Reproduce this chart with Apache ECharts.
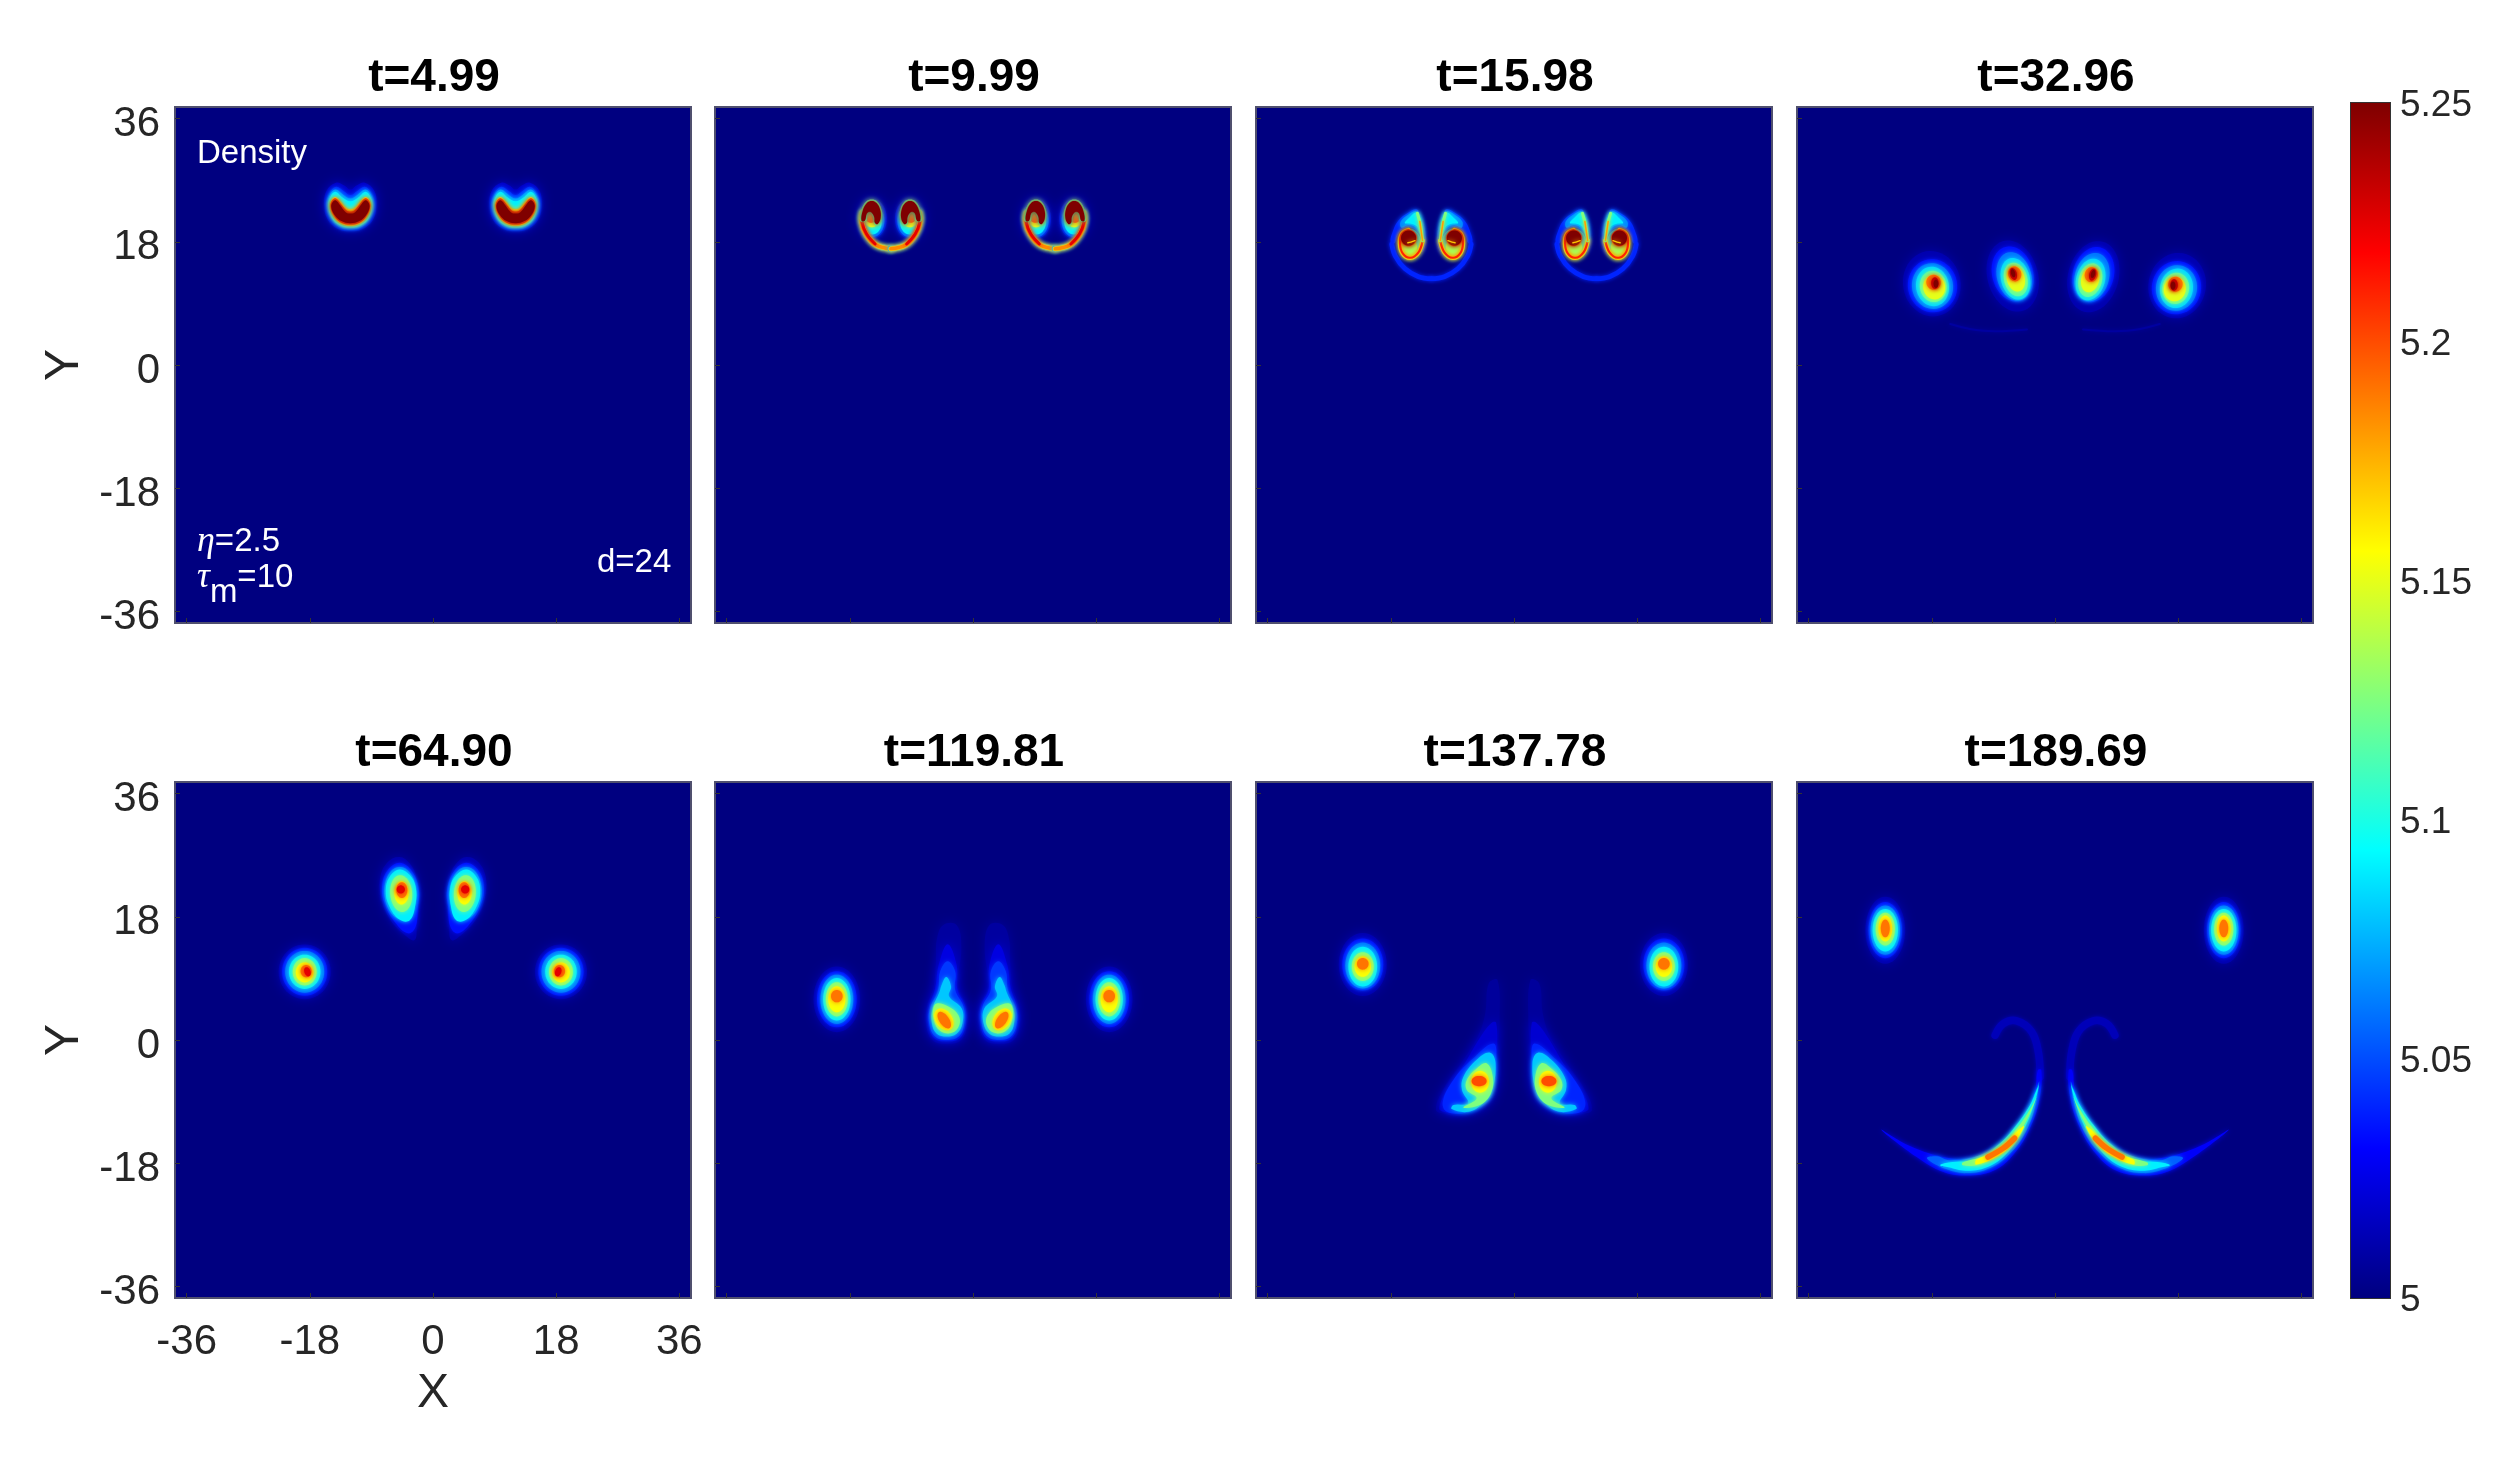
<!DOCTYPE html>
<html lang="en">
<head>
<meta charset="UTF-8">
<title>Density panels</title>
<script src="https://cdn.jsdelivr.net/npm/echarts@6/dist/echarts.min.js"></script>
<style>html,body{margin:0;background:#fff}</style>
</head>
<body>
<div id="main" style="width:2500px;height:1458px"></div>
<script>
var panelTitles = ['t=4.99', 't=9.99', 't=15.98', 't=32.96', 't=64.90', 't=119.81', 't=137.78', 't=189.69'];
var tickLabels = [-36, -18, 0, 18, 36];
var jetColors = ['#00007f', '#0000ff', '#007fff', '#00ffff', '#7fff7f', '#ffff00', '#ff7f00', '#ff0000', '#7f0000'];
var colorbarRange = [5, 5.25];

// contours, in X/Y data units
// ['e', level, cx, cy, rx, ry, tilt]  ['p', level, [x,y,...]]  ['l', level, width, [x,y,...]]
var uBlob = [
    ['p', 5.018, [-3.8,.3,-3.5,2.4,-2.1,3.6,-.9,3.2,0,2.6,.9,3.2,2.1,3.6,3.5,2.4,3.8,.3,3.3,-1.8,1.7,-3.2,0,-3.5,-1.7,-3.2,-3.3,-1.8]],
    ['p', 5.04, [-3.5,.3,-3.1,2,-2.1,3,-1,2.4,0,1.8,1,2.4,2.1,3,3.1,2,3.5,.3,2.9,-1.6,1.6,-2.9,0,-3.2,-1.6,-2.9,-2.9,-1.6]],
    ['p', 5.065, [-3.3,.3,-3,1.8,-2.2,2.6,-1.1,1.9,0,1.3,1.1,1.9,2.2,2.6,3,1.8,3.3,.3,2.8,-1.5,1.5,-2.75,0,-3,-1.5,-2.75,-2.8,-1.5]],
    ['p', 5.09, [-3.2,.3,-2.9,1.6,-2.2,2.3,-1.2,1.5,0,.9,1.2,1.5,2.2,2.3,2.9,1.6,3.2,.3,2.7,-1.5,1.5,-2.6,0,-2.9,-1.5,-2.6,-2.7,-1.5]],
    ['p', 5.15, [-3,.2,-2.7,1.2,-2.1,1.5,-1.3,.7,-.6,-.1,0,-.3,.6,-.1,1.3,.7,2.1,1.5,2.7,1.2,3,.2,2.5,-1.3,1.5,-2.3,0,-2.7,-1.5,-2.3,-2.5,-1.3]],
    ['p', 5.2, [-2.9,.2,-2.6,1.1,-2.1,1.3,-1.4,.5,-.6,-.4,0,-.6,.6,-.4,1.4,.5,2.1,1.3,2.6,1.1,2.9,.2,2.4,-1.2,1.4,-2.2,0,-2.5,-1.4,-2.2,-2.4,-1.2]],
    ['p', 5.25, [-2.8,.1,-2.5,.9,-2.1,1,-1.5,.3,-.7,-.7,0,-.9,.7,-.7,1.5,.3,2.1,1,2.5,.9,2.8,.1,2.3,-1.1,1.3,-2,0,-2.3,-1.3,-2,-2.3,-1.1]]
];
var ring2 = [-4.15,1.2,-4.25,-.25,-3.6,-2,-2.15,-3.55,0,-4.1];
var cupHalf = [
    ['e', 5.02, -2.7, .3, 2.1, 2.9, 0],
    ['e', 5.05, -2.7, 0, 1.75, 2.4, 0],
    ['e', 5.09, -2.7, -.2, 1.35, 1.8, 0],
    ['e', 5.15, -2.8, .2, 1.05, 1.15, 0],
    ['e', 5.2, -2.9, .5, .8, .8, 0],
    ['l', 5.07, .95, ring2],
    ['l', 5.15, .7, ring2],
    ['l', 5.185, .5, ring2],
    ['l', 5.225, .42, [-4.1,1.2,-4.2,-.25,-3.55,-1.95,-2.3,-3.4]],
    ['p', 5.12, [-4.5,0,-4.3,1.6,-3.6,2.8,-2.8,3.1,-2,2.8,-1.4,1.7,-1.3,.4,-1.8,-.7,-2.4,-.5,-2.6,.5,-3,1.1,-3.4,.8,-3.6,0]],
    ['p', 5.25, [-4.3,0,-4.1,1.5,-3.5,2.6,-2.8,2.9,-2.1,2.6,-1.6,1.7,-1.5,.4,-1.95,-.5,-2.35,-.3,-2.45,.6,-3,1.3,-3.5,1.1,-3.8,0]]
];
var lowerArm = [-1.3,0,-1.9,-1.7,-3.1,-2.5,-4.2,-1.85,-4.6,-.4,-4.3,1,-3.35,1.55];
var spiralHalf = [
    ['l', 5.04, .7, [-5.8,-.5,-5.3,-2.2,-3.85,-4.1,-1.9,-5.25,0,-5.55]],
    ['p', 5.04, [-2.2,4.6,-3.4,4.1,-4.8,3,-5.6,1.5,-6,-.2,-5.4,-.4,-5,.7,-4.3,1.6,-3.4,2,-2.5,1.7,-1.75,.7,-1.65,-.7,-2.4,-1.95,-1.2,-1.45,-.85,.5,-1.15,2.4,-1.7,3.9]],
    ['p', 5.065, [-2.3,4.3,-3.4,3.8,-4.5,2.8,-4.4,1.9,-3.4,2.3,-2.4,2,-1.6,.8,-1.5,-.4,-1.2,.5,-1.3,2.4,-1.85,3.85]],
    ['p', 5.09, [-2.4,4.1,-3.2,3.4,-3.9,2.6,-3.1,2.5,-2.15,2.1,-1.75,1.1,-1.45,.5,-1.4,2.3,-1.9,3.8]],
    ['e', 5.09, -3.1, -.5, 1.6, 2.2, 0],
    ['e', 5.135, -3.2, -1, 1.1, 1.35, 0],
    ['l', 5.15, .65, lowerArm],
    ['l', 5.21, .3, lowerArm],
    ['l', 5.125, .45, [-2.05,4,-1.6,2.2,-1.3,0]],
    ['l', 5.18, .22, [-1.7,2.8,-1.5,1.4,-1.3,0]],
    ['e', 5.2, -3.35, .4, 1.2, 1.2, 0],
    ['e', 5.25, -3.35, .4, 1.1, 1.1, 0],
    ['l', 5.17, .2, [-2.4,0,-3,-.2,-3.45,-.3]]
];
var vortexA = [
    ['e', 5.012, 0, -.2, 4.2, 4.8, 10],
    ['e', 5.035, .1, -.5, 3.6, 3.9, 10],
    ['e', 5.06, .1, -.55, 3, 3.35, 10],
    ['e', 5.085, .1, -.6, 2.4, 2.9, 10],
    ['e', 5.115, .2, -.6, 1.95, 2.3, 10],
    ['e', 5.15, .35, -.7, 1.6, 1.8, 10],
    ['e', 5.19, .25, 0, 1.05, 1.1, 10],
    ['e', 5.23, .45, -.1, .55, .85, 0],
    ['e', 5.25, .6, -.2, .35, .6, 0]
];
var vortexB = [
    ['e', 5.012, 0, -.3, 3.7, 5.3, 15],
    ['e', 5.035, 0, 0, 3, 4.1, 15],
    ['e', 5.06, .2, -.35, 2.5, 3.6, 15],
    ['e', 5.085, .4, -.7, 2.1, 3.1, 15],
    ['e', 5.115, .45, -.8, 1.7, 2.5, 15],
    ['e', 5.15, .45, -.7, 1.3, 1.9, 15],
    ['e', 5.19, .3, 0, .95, 1.1, 15],
    ['e', 5.23, .1, 0, .5, .9, 15],
    ['e', 5.25, .05, .1, .3, .6, 15]
];
var wakeLine = [['l', 5.008, .3, [-15.3,6,-10.5,5,-4.1,5.2]]];
var eggPair = [
    ['p', 5.012, [-4.9,26.75,-6.6,26,-7.7,23.8,-7.55,20.7,-6.35,17.75,-4.4,15.6,-2.7,14.6,-2.35,17,-2,20.4,-2.45,23.8,-3.4,25.8]],
    ['p', 5.035, [-4.9,25.9,-6.7,24.7,-7.45,22.4,-7.05,19.9,-5.7,17.4,-3.7,15.6,-2.6,16.4,-2.2,19.45,-2.05,21.9,-3.1,24.7]],
    ['e', 5.06, -4.75, 21.5, 2.35, 3.8, 3],
    ['p', 5.09, [-4.9,24.9,-6.35,23.8,-6.9,21.9,-6.45,19.7,-4.9,17.6,-3.4,17.5,-2.55,19.95,-2.55,22.4,-3.4,24.1]],
    ['e', 5.125, -4.65, 21.4, 1.6, 2.7, 5],
    ['e', 5.155, -4.6, 21.5, 1.05, 1.7, 0],
    ['e', 5.19, -4.55, 21.9, .8, 1.15, 0],
    ['e', 5.225, -4.7, 22, .6, .6, 0]
];
var outerBlob5 = [
    ['e', 5.012, 0, 0, 3.8, 4, 0],
    ['e', 5.035, 0, 0, 3.3, 3.5, 0],
    ['e', 5.06, 0, 0, 2.85, 3.05, 0],
    ['e', 5.09, 0, 0, 2.3, 2.5, 0],
    ['e', 5.125, 0, 0, 1.75, 2, 0],
    ['e', 5.155, 0, -.1, 1.3, 1.45, 0],
    ['e', 5.19, .2, .1, .8, .9, 0],
    ['e', 5.225, .4, 0, .45, .7, 20]
];
var outerBlob6 = [
    ['e', 5.012, 0, -.25, 3.4, 4.8, 0],
    ['e', 5.035, 0, -.25, 2.9, 4.1, 0],
    ['e', 5.06, 0, -.25, 2.4, 3.6, 0],
    ['e', 5.09, 0, -.25, 2, 3.1, 0],
    ['e', 5.125, 0, -.25, 1.6, 2.5, 0],
    ['e', 5.155, 0, -.25, 1.25, 1.9, 0],
    ['e', 5.19, 0, .2, .85, .9, 0]
];
var tearPair = [
    ['p', 5.008, [-5.3,14.6,-4.35,16.8,-2.4,16.8,-1.7,13.6,-2.2,7.8,-.95,4.9,-.85,2.4,-1.7,.05,-3.85,-.55,-6,.05,-6.85,2.4,-6.7,4.9,-5.75,7.8,-5.4,11.7]],
    ['p', 5.024, [-5,11,-3.7,14,-2.4,11,-2.3,7.5,-1.15,4.9,-1.05,2.4,-1.9,.3,-3.85,-.2,-5.7,.3,-6.55,2.4,-6.45,4.8,-5.55,7.5]],
    ['p', 5.045, [-4.8,10,-3.7,11.5,-2.6,10,-2.6,7.3,-1.4,4.9,-1.3,2.4,-2,.6,-3.85,0,-5.55,.5,-6.4,2.4,-6.3,4.6,-5.1,7.3]],
    ['p', 5.08, [-4.6,8,-3.9,9.2,-3.2,7.8,-3.5,6.4,-1.65,4.6,-1.55,2.4,-2.4,.9,-3.85,.5,-5.3,.9,-6,2.4,-5.9,4.6,-4.9,7]],
    ['p', 5.125, [-5.3,5.35,-3.6,4.9,-2.15,3.65,-2,2.2,-3.1,1.05,-4.8,1.35,-5.7,2.9,-5.8,4.6]],
    ['e', 5.155, -4.25, 3, 1.2, 1.75, 35],
    ['e', 5.19, -4.2, 2.9, .7, 1.4, 35]
];
var outerBlob7 = [
    ['e', 5.012, 0, 0, 3.5, 4.6, 0],
    ['e', 5.035, 0, 0, 3, 3.8, 0],
    ['e', 5.06, 0, -.15, 2.55, 3.35, 0],
    ['e', 5.09, 0, -.3, 2.1, 2.9, 0],
    ['e', 5.125, 0, -.3, 1.6, 2.1, 0],
    ['e', 5.155, 0, -.3, 1.2, 1.5, 0],
    ['e', 5.19, 0, .1, .85, .85, 0]
];
var plumePair = [
    ['p', 5.007, [-3.7,8.25,-2.4,8.75,-2.1,2.9,-2.4,-2,-2.55,-6.8,-3.8,-9.45,-6.9,-11,-10.05,-10.8,-11.4,-10.2,-10.25,-7.1,-7.6,-3.2,-5.2,.7,-4.2,3.9]],
    ['p', 5.02, [-3.3,2.5,-2.6,2.5,-2.5,-2,-2.7,-6.8,-4,-9.3,-6.9,-10.7,-10,-10.55,-10.9,-10,-9.8,-7.3,-7.2,-3.4,-5,.3]],
    ['p', 5.04, [-3,-.5,-2.6,-3,-3,-7.3,-4.25,-9.35,-6.9,-10.6,-9.8,-10.5,-10.4,-9,-8.85,-5.85,-6.2,-2.9]],
    ['p', 5.08, [-3.5,-1.85,-2.7,-3.4,-3.25,-7.55,-4.5,-9.25,-6.65,-10.5,-9.1,-10.1,-8.85,-9.5,-6.7,-9.25,-7.6,-7.3,-7.4,-5.4,-5.45,-2.9]],
    ['p', 5.125, [-4,-3.4,-3.1,-5.4,-3.4,-7.8,-5,-9.5,-7.4,-9.85,-5.45,-8.5,-6.9,-7.3,-6.9,-5.85,-5.45,-4.15]],
    ['e', 5.155, -4.95, -6.1, 1.3, 1.6, 0],
    ['e', 5.2, -5.1, -6, 1.1, .75, 0]
];
var outerBlob8 = [
    ['e', 5.012, 0, -.25, 2.9, 4.9, 0],
    ['e', 5.035, 0, -.25, 2.45, 4.1, 0],
    ['e', 5.06, 0, -.25, 2.15, 3.6, 0],
    ['e', 5.09, 0, -.25, 1.85, 3.1, 0],
    ['e', 5.125, 0, -.1, 1.4, 2.4, 0],
    ['e', 5.155, 0, 0, 1, 1.9, 0],
    ['e', 5.19, 0, 0, .65, 1.3, 0]
];
var crescentPair = [
    ['l', 5.014, 1.1, [-2.2,-5.4,-2.4,-1.95,-3.4,1.2,-5.6,2.8,-7.55,2.4,-8.75,.7]],
    ['p', 5.03, [-2,-4.4,-2.2,-8.3,-3.55,-12.65,-6,-16.65,-9,-19.1,-12.9,-19.8,-16.3,-19.3,-20.2,-17.1,-25.4,-13.1,-21.2,-15.5,-15.8,-17.2,-11.9,-17.1,-8.5,-15.4,-6.1,-12.9,-4.1,-10,-2.9,-7.2,-2.5,-4.4]],
    ['p', 5.055, [-2.3,-6.1,-2.8,-9.25,-4.1,-13.1,-6.55,-16.55,-9.5,-18.7,-12.9,-19.45,-15.8,-18.9,-18.7,-17.3,-17.3,-17,-15.3,-17.6,-11.4,-17,-8.3,-15.3,-5.85,-12.9,-3.9,-10,-2.8,-7.3]],
    ['p', 5.09, [-2.35,-6.6,-3.15,-9.7,-4.6,-13.1,-6.8,-16.3,-9.5,-18.4,-12.9,-19.1,-15.55,-18.6,-16.8,-18.3,-15.55,-17.9,-11.4,-17.4,-8,-15.1,-5.6,-12.4,-3.65,-9.5,-2.7,-7.3]],
    ['p', 5.125, [-2.7,-8.3,-4.1,-11.7,-6.1,-14.6,-8.5,-16.8,-11.4,-18.25,-13.5,-18.3,-13.5,-17.9,-10.45,-17,-7.5,-15.1,-5.35,-12.65,-3.4,-9.7]],
    ['p', 5.155, [-4.5,-12.6,-5.9,-14.9,-8.25,-16.9,-11.5,-18.2,-11.5,-17.5,-9,-16.5,-6.8,-14.8,-5.4,-13.2]],
    ['l', 5.19, .8, [-5.9,-14.35,-7.55,-15.8,-9.8,-17.1]]
];

// placement of the shapes in each panel: [shape, x, y, mirrored]
var panel1Shapes = [[uBlob, -12.07, 23.03], [uBlob, 12.07, 23.03]];
var panel2Shapes = [[cupHalf, -12, 21.08], [cupHalf, -12, 21.08, 1], [cupHalf, 12, 21.08], [cupHalf, 12, 21.08, 1]];
var panel3Shapes = [[spiralHalf, -12.06, 18.16], [spiralHalf, -12.06, 18.16, 1], [spiralHalf, 12.06, 18.16], [spiralHalf, 12.06, 18.16, 1]];
var panel4Shapes = [[wakeLine, 0, 0], [wakeLine, 0, 0, 1], [vortexA, -18, 12.08], [vortexB, -6.18, 13.3], [vortexB, 5.6, 13.2, 1], [vortexA, 17.85, 11.8, 1]];
var panel5Shapes = [[eggPair, 0, 0], [eggPair, 0, 0, 1], [outerBlob5, -18.75, 9.97], [outerBlob5, 18.7, 9.97, 1]];
var panel6Shapes = [[tearPair, 0, 0], [tearPair, 0, 0, 1], [outerBlob6, -19.9, 6.2], [outerBlob6, 19.9, 6.2, 1]];
var panel7Shapes = [[plumePair, 0, 0], [plumePair, 0, 0, 1], [outerBlob7, -22.1, 11.03], [outerBlob7, 21.9, 11.03, 1]];
var panel8Shapes = [[crescentPair, 0, 0], [crescentPair, 0, 0, 1], [outerBlob8, -24.8, 16.3], [outerBlob8, 24.66, 16.3, 1]];
var allPanelShapes = [panel1Shapes, panel2Shapes, panel3Shapes, panel4Shapes, panel5Shapes, panel6Shapes, panel7Shapes, panel8Shapes];

var panelLefts = [175, 715, 1256, 1797];
var panelTops = [107, 782];
var panelSize = 516;
var axisFont = 'Liberation Sans';
var inkColor = '#262626';

function placeBands(shapes) {
    var out = [];
    shapes.forEach(function (s) {
        var sign = s[3] ? -1 : 1;
        s[0].forEach(function (b) {
            if (b[0] === 'e') {
                out.push(['e', b[1], s[1] + sign * b[2], s[2] + b[3], b[4], b[5], sign * b[6]]);
            } else {
                var src = b[b.length - 1], pts = [];
                for (var i = 0; i < src.length; i += 2) {
                    pts.push([s[1] + sign * src[i], s[2] + src[i + 1]]);
                }
                out.push(b[0] === 'p' ? ['p', b[1], pts] : ['l', b[1], b[2], pts]);
            }
        });
    });
    return out;
}

function ellipsePoints(b) {
    var pts = [], tilt = b[6] * Math.PI / 180;
    for (var i = 0; i < 48; i++) {
        var a = i / 48 * 2 * Math.PI;
        var u = b[4] * Math.cos(a), v = b[5] * Math.sin(a);
        pts.push([b[2] + u * Math.cos(tilt) - v * Math.sin(tilt), b[3] + u * Math.sin(tilt) + v * Math.cos(tilt)]);
    }
    return pts;
}

function bandRenderer(bands) {
    return function (params, api) {
        var b = bands[api.value(1)];
        var color = api.visual('color');
        // the faint outer contours get a wider blur so they fade into the background
        var blur = b[1] < 5.025 ? 12 : 5;
        if (b[0] === 'l') {
            return {
                type: 'polyline',
                shape: { points: b[3].map(function (p) { return api.coord(p); }), smooth: 0.4 },
                style: { fill: null, stroke: color, lineWidth: api.size([b[2], 0])[0], lineCap: 'round', lineJoin: 'round', shadowBlur: Math.min(blur, 4), shadowColor: color }
            };
        }
        var pts = b[0] === 'e' ? ellipsePoints(b) : b[2];
        return {
            type: 'polygon',
            shape: { points: pts.map(function (p) { return api.coord(p); }), smooth: b[0] === 'e' ? 0 : 0.4 },
            style: { fill: color, shadowBlur: blur, shadowColor: color }
        };
    };
}

var grids = [], xAxes = [], yAxes = [], series = [], titles = [];
panelTitles.forEach(function (name, i) {
    var col = i % 4, row = i < 4 ? 0 : 1;
    grids.push({
        left: panelLefts[col], top: panelTops[row], width: panelSize, height: panelSize,
        show: true, backgroundColor: '#000080', borderColor: '#50506e', borderWidth: 2
    });
    var tickStyle = { show: true, inside: true, length: 5, customValues: tickLabels, lineStyle: { color: '#333', width: 1 } };
    xAxes.push({
        gridIndex: i, type: 'value', min: -37.7, max: 37.7,
        name: i === 4 ? 'X' : '', nameLocation: 'middle', nameGap: 72,
        nameTextStyle: { fontFamily: axisFont, fontSize: 48, color: inkColor },
        axisLine: { show: false, onZero: false }, splitLine: { show: false }, axisTick: tickStyle,
        axisLabel: { show: i === 4, customValues: tickLabels, margin: 23, fontFamily: axisFont, fontSize: 42, color: inkColor }
    });
    yAxes.push({
        gridIndex: i, type: 'value', min: -37.7, max: 37.7,
        name: col === 0 ? 'Y' : '', nameLocation: 'middle', nameGap: 86,
        nameTextStyle: { fontFamily: axisFont, fontSize: 48, color: inkColor },
        axisLine: { show: false, onZero: false }, splitLine: { show: false }, axisTick: tickStyle,
        axisLabel: { show: col === 0, customValues: tickLabels, margin: 15, verticalAlign: 'top', lineHeight: 12, fontFamily: axisFont, fontSize: 42, color: inkColor }
    });
    var bands = placeBands(allPanelShapes[i]);
    series.push({
        type: 'custom', xAxisIndex: i, yAxisIndex: i, clip: true, silent: true,
        renderItem: bandRenderer(bands),
        data: bands.map(function (b, k) { return [b[1], k]; })
    });
    titles.push({
        text: name, left: panelLefts[col] + panelSize / 2 - 4, top: panelTops[row] - 57, textAlign: 'center',
        textStyle: { fontFamily: axisFont, fontSize: 46, fontWeight: 'bold', color: '#000' }
    });
});

// panel notes
var noteStyle = {
    fontFamily: axisFont, fontSize: 33, fontWeight: 'normal', color: '#fff',
    rich: {
        g: { fontFamily: 'Liberation Serif', fontStyle: 'italic', fontSize: 36, color: '#fff' },
        n: { fontFamily: axisFont, fontSize: 33, color: '#fff' },
        s: { fontFamily: axisFont, fontSize: 33, color: '#fff', padding: [30, 0, 0, 0] }
    }
};
titles.push({ text: 'Density', left: 192, top: 132, textStyle: noteStyle });
titles.push({ text: '{g|η}{n|=2.5}', left: 192, top: 519, textStyle: noteStyle });
titles.push({ text: '{g|τ}{s|m}{n|=10}', left: 192, top: 541, textStyle: noteStyle });
titles.push({ text: 'd=24', left: 592, top: 541, textStyle: noteStyle });

// colorbar
grids.push({ left: 2351, top: 103, width: 39, height: 1195, show: true, borderColor: '#333', borderWidth: 2 });
xAxes.push({ gridIndex: 8, type: 'value', min: 0, max: 1, show: false });
yAxes.push({
    gridIndex: 8, type: 'value', min: colorbarRange[0], max: colorbarRange[1], interval: 0.05, position: 'right',
    axisLine: { show: false, onZero: false }, splitLine: { show: false },
    axisTick: { show: true, inside: true, length: 13, lineStyle: { color: '#333', width: 2 } },
    axisLabel: { margin: 10, verticalAlign: 'top', lineHeight: 6, fontFamily: axisFont, fontSize: 37, color: inkColor }
});
series.push({
    type: 'custom', xAxisIndex: 8, yAxisIndex: 8, silent: true, z: 1,
    renderItem: function (params, api) {
        var lo = api.coord([0, api.value(0)]), hi = api.coord([1, api.value(1)]);
        var stops = jetColors.map(function (c, i) { return { offset: i / (jetColors.length - 1), color: c }; });
        return {
            type: 'rect',
            shape: { x: lo[0], y: hi[1], width: hi[0] - lo[0], height: lo[1] - hi[1] },
            style: { fill: new echarts.graphic.LinearGradient(0, 1, 0, 0, stops) }
        };
    },
    data: [colorbarRange]
});

var chart = echarts.init(document.getElementById('main'), null, { renderer: 'canvas' });
chart.setOption({
    animation: false,
    backgroundColor: '#fff',
    title: titles,
    grid: grids,
    xAxis: xAxes,
    yAxis: yAxes,
    visualMap: {
        type: 'continuous', show: false, min: colorbarRange[0], max: colorbarRange[1], dimension: 0,
        seriesIndex: [0, 1, 2, 3, 4, 5, 6, 7], inRange: { color: jetColors }
    },
    series: series
});
</script>
</body>
</html>
